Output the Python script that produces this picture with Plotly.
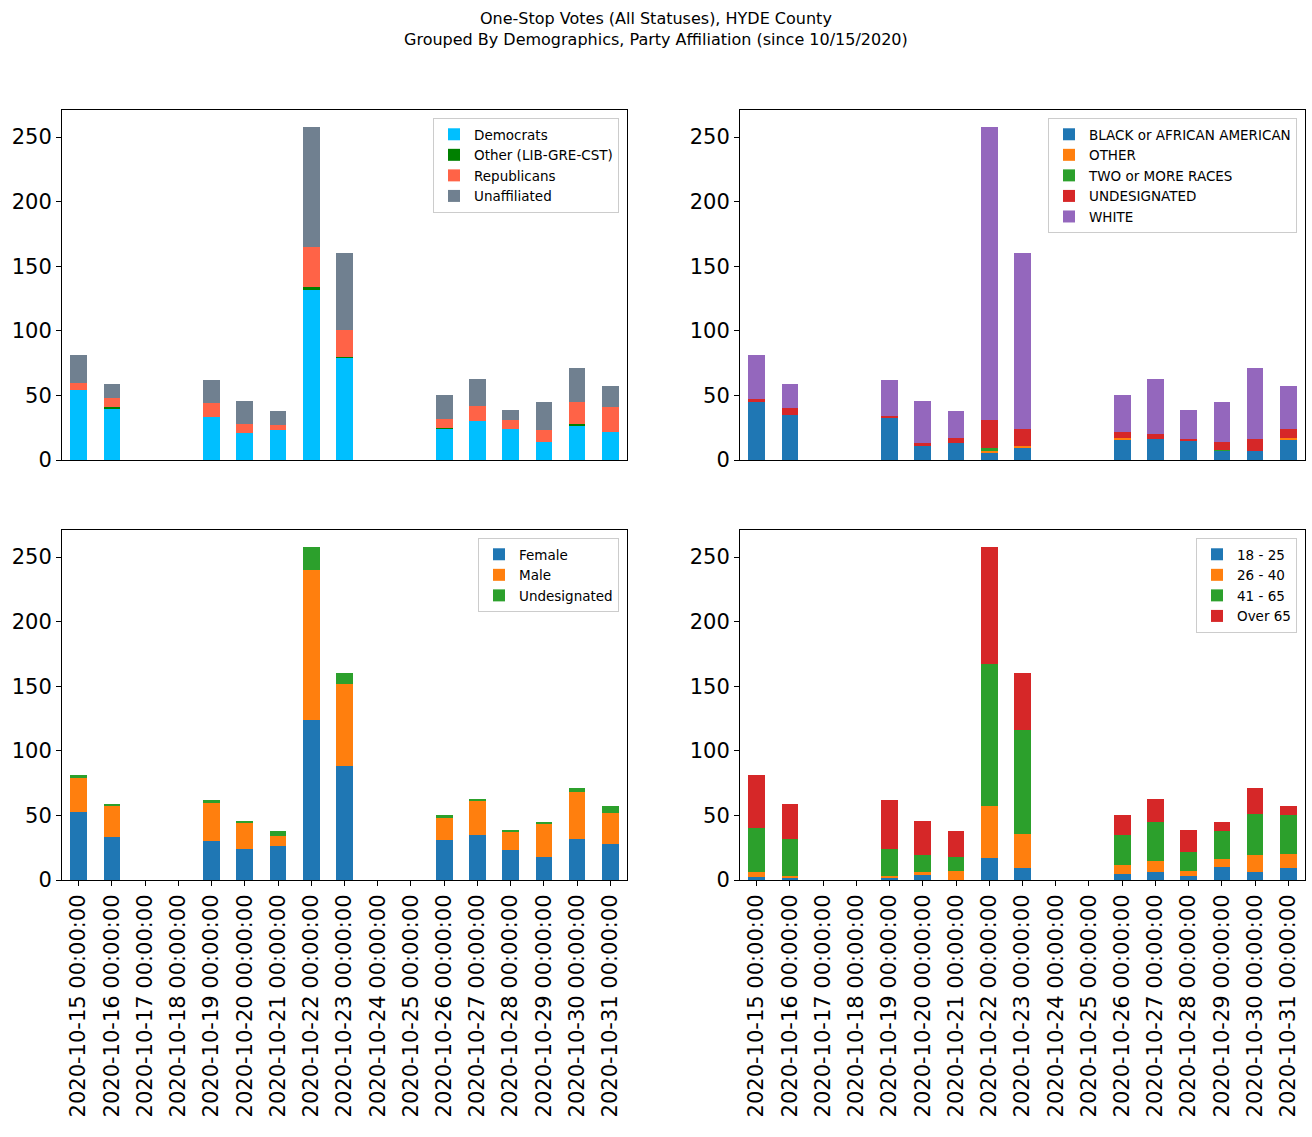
import plotly.graph_objects as go

dates = ["2020-10-15 00:00:00", "2020-10-16 00:00:00", "2020-10-17 00:00:00", "2020-10-18 00:00:00",
         "2020-10-19 00:00:00", "2020-10-20 00:00:00", "2020-10-21 00:00:00", "2020-10-22 00:00:00",
         "2020-10-23 00:00:00", "2020-10-24 00:00:00", "2020-10-25 00:00:00", "2020-10-26 00:00:00",
         "2020-10-27 00:00:00", "2020-10-28 00:00:00", "2020-10-29 00:00:00", "2020-10-30 00:00:00",
         "2020-10-31 00:00:00"]

# Party affiliation
democrats    = [54, 40, 0, 0, 33, 21, 23, 132, 79, 0, 0, 24, 30, 24, 14, 27, 22]
other_party  = [0, 1, 0, 0, 0, 0, 0, 2, 1, 0, 0, 1, 0, 0, 0, 1, 0]
republicans  = [6, 7, 0, 0, 11, 7, 4, 31, 21, 0, 0, 7, 12, 7, 9, 17, 19]
unaffiliated = [21, 11, 0, 0, 18, 18, 11, 93, 59, 0, 0, 18, 21, 8, 22, 26, 16]

# Race
black        = [45, 35, 0, 0, 33, 11, 13, 6, 10, 0, 0, 16, 16, 15, 7, 7, 16]
other_race   = [0, 0, 0, 0, 0, 0, 0, 1, 1, 0, 0, 1, 0, 0, 0, 0, 1]
two_or_more  = [0, 0, 0, 0, 0, 0, 0, 2, 0, 0, 0, 0, 0, 0, 1, 0, 0]
undesig_race = [2, 5, 0, 0, 1, 2, 4, 22, 13, 0, 0, 5, 4, 1, 6, 9, 7]
white        = [34, 19, 0, 0, 28, 33, 21, 227, 136, 0, 0, 28, 43, 23, 31, 55, 33]

# Gender
female       = [53, 33, 0, 0, 30, 24, 26, 124, 88, 0, 0, 31, 35, 23, 18, 32, 28]
male         = [26, 24, 0, 0, 30, 20, 8, 116, 64, 0, 0, 17, 26, 14, 26, 36, 24]
undesig_sex  = [2, 2, 0, 0, 2, 2, 4, 18, 8, 0, 0, 2, 2, 2, 1, 3, 5]

# Age
age_18_25    = [2, 2, 0, 0, 2, 4, 0, 17, 9, 0, 0, 5, 6, 3, 10, 6, 9]
age_26_40    = [4, 1, 0, 0, 1, 2, 7, 40, 27, 0, 0, 7, 9, 4, 6, 13, 11]
age_41_65    = [34, 29, 0, 0, 21, 13, 11, 110, 80, 0, 0, 23, 30, 15, 22, 32, 30]
age_over_65  = [41, 27, 0, 0, 38, 27, 20, 91, 44, 0, 0, 15, 18, 17, 7, 20, 7]

title_lines = ["One-Stop Votes (All Statuses), HYDE County",
               "Grouped By Demographics, Party Affiliation (since 10/15/2020)"]

tab_blue, tab_orange, tab_green, tab_red, tab_purple = "#1f77b4", "#ff7f0e", "#2ca02c", "#d62728", "#9467bd"

panels = [
    ("x", "y", "legend", [("Democrats", democrats, "#00BFFF"),
                          ("Other (LIB-GRE-CST)", other_party, "#008000"),
                          ("Republicans", republicans, "#FF6347"),
                          ("Unaffiliated", unaffiliated, "#708090")]),
    ("x2", "y2", "legend2", [("BLACK or AFRICAN AMERICAN", black, tab_blue),
                             ("OTHER", other_race, tab_orange),
                             ("TWO or MORE RACES", two_or_more, tab_green),
                             ("UNDESIGNATED", undesig_race, tab_red),
                             ("WHITE", white, tab_purple)]),
    ("x3", "y3", "legend3", [("Female", female, tab_blue),
                             ("Male", male, tab_orange),
                             ("Undesignated", undesig_sex, tab_green)]),
    ("x4", "y4", "legend4", [("18 - 25", age_18_25, tab_blue),
                             ("26 - 40", age_26_40, tab_orange),
                             ("41 - 65", age_41_65, tab_green),
                             ("Over 65", age_over_65, tab_red)]),
]

fig = go.Figure()
for xa, ya, lg, series in panels:
    for name, vals, color in series:
        fig.add_trace(go.Bar(x=dates, y=vals, name=name, marker=dict(color=color, line=dict(width=0)),
                             width=0.5, xaxis=xa, yaxis=ya, legend=lg))

W, H = 1312, 1137
def px_x(v): return v / W
def px_y(v): return 1 - v / H

xdom_l = [px_x(62), px_x(627)]
xdom_r = [px_x(740), px_x(1305)]
ydom_t = [px_y(460), px_y(110)]
ydom_b = [px_y(880), px_y(530)]

font_family = "DejaVu Sans"
tick_font = dict(family=font_family, size=21, color="black")

def xaxis(dom, anchor, show):
    return dict(domain=dom, anchor=anchor, type="category", range=[-0.5, len(dates) - 0.5],
                showline=True, mirror=True, linecolor="black", linewidth=1,
                showgrid=False, zeroline=False,
                ticks="outside" if show else "", ticklen=5, tickcolor="black",
                showticklabels=show, tickangle=-90, tickfont=tick_font, automargin=False)

def yaxis(dom, anchor):
    return dict(domain=dom, anchor=anchor, range=[0, 271],
                showline=True, mirror=True, linecolor="black", linewidth=1,
                showgrid=False, zeroline=False, ticks="outside", ticklen=5, tickcolor="black",
                tickvals=[0, 50, 100, 150, 200, 250], tickfont=tick_font, automargin=False)

def legend(xr, yt):
    return dict(x=px_x(xr), y=px_y(yt), xanchor="right", yanchor="top", traceorder="normal",
                bgcolor="rgba(255,255,255,0.8)", bordercolor="#cccccc", borderwidth=1,
                font=dict(family=font_family, size=13.5, color="black"), tracegroupgap=0)

fig.update_layout(
    width=W, height=H, barmode="stack",
    margin=dict(l=0, r=0, t=0, b=0),
    paper_bgcolor="white", plot_bgcolor="white",
    font=dict(family=font_family, color="black"),
    xaxis=xaxis(xdom_l, "y", False), yaxis=yaxis(ydom_t, "x"),
    xaxis2=xaxis(xdom_r, "y2", False), yaxis2=yaxis(ydom_t, "x2"),
    xaxis3=xaxis(xdom_l, "y3", True), yaxis3=yaxis(ydom_b, "x3"),
    xaxis4=xaxis(xdom_r, "y4", True), yaxis4=yaxis(ydom_b, "x4"),
    legend=legend(619, 118), legend2=legend(1297, 118),
    legend3=legend(619, 538), legend4=legend(1297, 538),
    showlegend=True,
    annotations=[dict(text="<br>".join(title_lines), x=0.5, y=px_y(7), xref="paper", yref="paper",
                      xanchor="center", yanchor="top", showarrow=False,
                      font=dict(family=font_family, size=16, color="black"))],
)

fig.write_html("out.html", config={"displayModeBar": False},
               post_script="document.body.style.margin='0';document.body.style.overflow='hidden';")
